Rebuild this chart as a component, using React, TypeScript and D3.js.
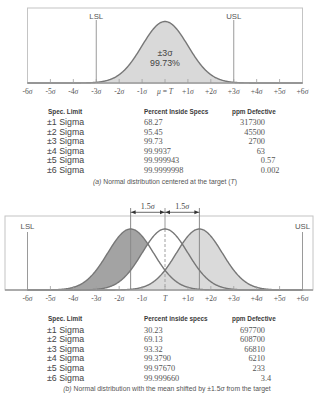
import React from "react";
import * as d3 from "d3";

const tickValues = [-6, -5, -4, -3, -2, -1, 0, 1, 2, 3, 4, 5, 6];
const tickNumbersTop = ["-6", "-5", "-4", "-3", "-2", "-1", "μ = T", "+1", "+2", "+3", "+4", "+5", "+6"];
const tickNumbersBottom = ["-6", "-5", "-4", "-3", "-2", "-1", "T", "+1", "+2", "+3", "+4", "+5", "+6"];
const specLimitsTop = [-3, 3];
const specLimitsBottom = [-6, 6];
const shiftedMeans = [-1.5, 0, 1.5];
const shiftLabels = ["1.5σ", "1.5σ"];

const specRows = ["±1 Sigma", "±2 Sigma", "±3 Sigma", "±4 Sigma", "±5 Sigma", "±6 Sigma"];
const pctA = ["68.27", "95.45", "99.73", "99.9937", "99.999943", "99.9999998"];
const ppmA = ["317300", "45500", "2700", "63", "0.57", "0.002"];
const pctB = ["30.23", "69.13", "93.32", "99.3790", "99.97670", "99.999660"];
const ppmB = ["697700", "608700", "66810", "6210", "233", "3.4"];
const headersA = ["Spec. Limit", "Percent Inside Specs", "ppm Defective"];
const headersB = ["Spec. Limit", "Percent inside specs", "ppm Defective"];

const W = 326;
const H = 398;
const SERIF = "'Liberation Serif', 'Times New Roman', serif";
const SANS = "'Liberation Sans', Arial, sans-serif";

const pdf = (x: number, m: number) => Math.exp(-0.5 * (x - m) * (x - m));
const samples = d3.range(-6, 6.0001, 0.02);

const x = d3.scaleLinear().domain([-6, 6]).range([27.5, 302.5]);

function TickLabels({ y, labels }: { y: number; labels: string[] }) {
  return (
    <g fontFamily={SERIF} fontSize={7.6} fill="#555" textAnchor="middle">
      {tickValues.map((v, i) => (
        <text key={v} x={x(v)} y={y}>
          {v === 0 ? (
            labels[i] === "T" ? (
              <tspan fontStyle="italic">T</tspan>
            ) : (
              <>
                <tspan fontStyle="italic">μ</tspan>
                <tspan> = </tspan>
                <tspan fontStyle="italic">T</tspan>
              </>
            )
          ) : (
            <>
              <tspan>{labels[i]}</tspan>
              <tspan fontStyle="italic">σ</tspan>
            </>
          )}
        </text>
      ))}
    </g>
  );
}

function Table({ top, headers, pct, ppm }: { top: number; headers: string[]; pct: string[]; ppm: string[] }) {
  const rowH = 9.6;
  const colX = [48, 144, 232];
  const ppmX = 265;
  return (
    <g>
      <g fontFamily={SANS} fontWeight="bold" fontSize={8} fill="#3a3a3a">
        {headers.map((h, i) => (
          <text key={h} transform={`translate(${colX[i]},${top}) scale(0.8,1)`}>
            {h}
          </text>
        ))}
      </g>
      {specRows.map((s, i) => {
        const y = top + 11.5 + i * rowH;
        const parts = ppm[i].split(".");
        return (
          <g key={s}>
            <text x={colX[0] - 1} y={y} fontFamily={SANS} fontSize={8.8} fill="#444">
              {s}
            </text>
            <text x={colX[1]} y={y} fontFamily={SERIF} fontSize={8.3} fill="#555">
              {pct[i]}
            </text>
            <text x={ppmX} y={y} fontFamily={SERIF} fontSize={8.3} fill="#555" textAnchor="end">
              {parts[0]}
            </text>
            {parts.length > 1 && (
              <text x={ppmX} y={y} fontFamily={SERIF} fontSize={8.3} fill="#555">
                {"." + parts[1]}
              </text>
            )}
          </g>
        );
      })}
    </g>
  );
}

export default function App() {
  // Top panel
  const yTop = d3.scaleLinear().domain([0, 1]).range([83, 21.5]);
  const lineTop = d3
    .line<number>()
    .x((d) => x(d))
    .y((d) => yTop(pdf(d, 0)));
  const areaTop = d3
    .area<number>()
    .x((d) => x(d))
    .y0(yTop(0))
    .y1((d) => yTop(pdf(d, 0)));
  const inside = samples.filter((d) => d >= specLimitsTop[0] - 1e-9 && d <= specLimitsTop[1] + 1e-9);

  // Bottom panel
  const yBot = d3.scaleLinear().domain([0, 1]).range([290, 229]);
  const lineB = (m: number) =>
    d3
      .line<number>()
      .x((d) => x(d))
      .y((d) => yBot(pdf(d, m)))(samples) as string;
  const areaB = (m: number) =>
    d3
      .area<number>()
      .x((d) => x(d))
      .y0(yBot(0))
      .y1((d) => yBot(pdf(d, m)))(samples) as string;

  const arrowY = 212.3;
  const arrowHead = (xp: number, dir: number) =>
    `M${xp},${arrowY} L${xp - dir * 4.5},${arrowY - 2} L${xp - dir * 4.5},${arrowY + 2} Z`;

  return (
    <svg
      width={W}
      height={H}
      viewBox={`0 0 ${W} ${H}`}
      style={{ position: "absolute", left: 0, top: 0, background: "#fff" }}
    >
      <rect width={W} height={H} fill="#fff" />
      {/* ---------- Top panel ---------- */}
      <rect x={x(-6)} y={8} width={x(6) - x(-6)} height={83 - 8} fill="none" stroke="#c4c4c4" strokeWidth={1} />
      <path d={areaTop(inside) as string} fill="#d9d9d9" />
      {specLimitsTop.map((v) => (
        <line key={v} x1={x(v)} x2={x(v)} y1={20} y2={83} stroke="#9a9a9a" strokeWidth={1} />
      ))}
      <path d={lineTop(samples) as string} fill="none" stroke="#777" strokeWidth={1.4} />
      {tickValues.slice(1, -1).map((v) => (
        <line key={v} x1={x(v)} x2={x(v)} y1={79} y2={83} stroke="#a0a0a0" strokeWidth={0.8} />
      ))}
      <line x1={x(-6)} x2={x(6)} y1={83} y2={83} stroke="#999" strokeWidth={1.5} />
      <g fontFamily={SANS} fontSize={7.8} fill="#555" textAnchor="middle">
        <text x={x(specLimitsTop[0])} y={18.5}>LSL</text>
        <text x={x(specLimitsTop[1])} y={18.5}>USL</text>
      </g>
      <g fontFamily={SANS} fontSize={8.8} fill="#444" textAnchor="middle">
        <text x={x(0)} y={56}>±3σ</text>
        <text x={x(0)} y={66}>99.73%</text>
      </g>
      <TickLabels y={93.8} labels={tickNumbersTop} />
      <Table top={113.5} headers={headersA} pct={pctA} ppm={ppmA} />
      <text x={165} y={183.5} fontFamily={SANS} fontSize={6.8} fill="#555" textAnchor="middle">
        <tspan fontStyle="italic">(a)</tspan> Normal distribution centered at the target (<tspan fontStyle="italic">T</tspan>)
      </text>

      {/* ---------- Bottom panel ---------- */}
      <rect x={5} y={216} width={308} height={290 - 216} fill="none" stroke="#c4c4c4" strokeWidth={1} />
      <path d={areaB(shiftedMeans[0])} fill="#a3a3a3" />
      <path d={areaB(shiftedMeans[1])} fill="#fff" />
      <path d={areaB(shiftedMeans[2])} fill="#dadada" />
      {specLimitsBottom.map((v) => (
        <line key={v} x1={x(v)} x2={x(v)} y1={232} y2={290} stroke="#9a9a9a" strokeWidth={1} />
      ))}
      <line x1={x(shiftedMeans[0])} x2={x(shiftedMeans[0])} y1={208} y2={290} stroke="#8a8a8a" strokeWidth={1} />
      <line x1={x(shiftedMeans[2])} x2={x(shiftedMeans[2])} y1={208} y2={290} stroke="#8a8a8a" strokeWidth={1} />
      <line x1={x(shiftedMeans[1])} x2={x(shiftedMeans[1])} y1={208} y2={229} stroke="#9a9a9a" strokeWidth={1} />
      <line
        x1={x(shiftedMeans[1])}
        x2={x(shiftedMeans[1])}
        y1={229}
        y2={290}
        stroke="#a0a0a0"
        strokeWidth={1}
        strokeDasharray="3,2"
      />
      {shiftedMeans.map((m) => (
        <path key={m} d={lineB(m)} fill="none" stroke="#777" strokeWidth={1.4} />
      ))}
      {tickValues.slice(1, -1).map((v) => (
        <line key={v} x1={x(v)} x2={x(v)} y1={286} y2={290} stroke="#a0a0a0" strokeWidth={0.8} />
      ))}
      <line x1={5} x2={313} y1={290} y2={290} stroke="#999" strokeWidth={1.5} />
      {/* shift arrows */}
      <g stroke="#444" strokeWidth={0.8}>
        <line x1={x(shiftedMeans[0])} x2={x(shiftedMeans[1])} y1={arrowY} y2={arrowY} />
        <line x1={x(shiftedMeans[1])} x2={x(shiftedMeans[2])} y1={arrowY} y2={arrowY} />
      </g>
      <g fill="#333">
        <path d={arrowHead(x(shiftedMeans[0]) + 0.5, -1)} />
        <path d={arrowHead(x(shiftedMeans[1]) - 0.5, 1)} />
        <path d={arrowHead(x(shiftedMeans[1]) + 0.5, -1)} />
        <path d={arrowHead(x(shiftedMeans[2]) - 0.5, 1)} />
      </g>
      <g fontFamily={SERIF} fontSize={8} fill="#444" textAnchor="middle">
        {shiftLabels.map((l, i) => (
          <text key={i} x={(x(shiftedMeans[i]) + x(shiftedMeans[i + 1])) / 2} y={209}>
            1.5<tspan fontStyle="italic">σ</tspan>
          </text>
        ))}
      </g>
      <g fontFamily={SANS} fontSize={7.8} fill="#555" textAnchor="middle">
        <text x={x(specLimitsBottom[0])} y={228.5}>LSL</text>
        <text x={x(specLimitsBottom[1])} y={228.5}>USL</text>
      </g>
      <TickLabels y={300.5} labels={tickNumbersBottom} />
      <Table top={321} headers={headersB} pct={pctB} ppm={ppmB} />
      <text x={167} y={391} fontFamily={SANS} fontSize={6.8} fill="#555" textAnchor="middle">
        <tspan fontStyle="italic">(b)</tspan> Normal distribution with the mean shifted by ±1.5
        <tspan fontStyle="italic">σ</tspan> from the target
      </text>
    </svg>
  );
}
